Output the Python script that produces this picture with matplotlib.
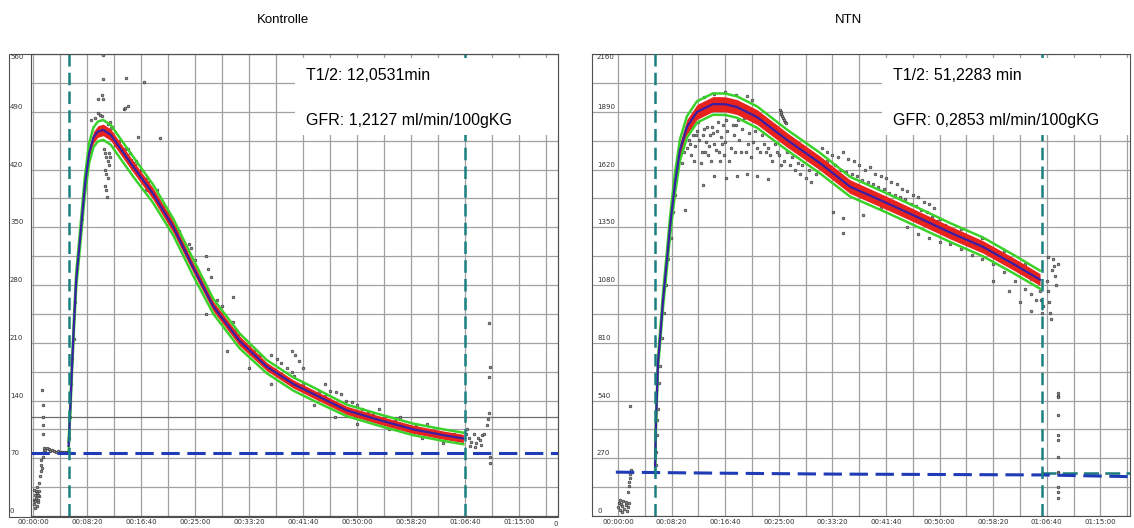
import numpy as np
import matplotlib
matplotlib.use('Agg')
import matplotlib.pyplot as plt
from matplotlib import transforms
from matplotlib.patches import Rectangle
from matplotlib.ticker import FuncFormatter

# ---------------- data (time in s, signal in counts) ----------------
# Kontrolle
k_fit_t = [330, 345, 360, 380, 400, 435, 480, 520, 560, 600, 650, 720, 800, 930, 1110, 1300,
           1480, 1670, 1915, 2165, 2410, 2595, 2905, 3215, 3520, 3800, 3985]
k_fit_v = [85, 130, 177, 235, 286, 335, 400, 440, 459, 466, 468, 462, 447, 423, 391, 350,
           302, 254, 212, 181, 160, 148, 128, 116, 105, 98, 94]
k_red_w = [3, 4, 5, 6, 6, 7, 7, 7, 7, 7, 7, 7, 7, 7, 7, 7, 6, 6, 6, 5, 5, 5, 5, 5, 5, 5, 5]
k_green_w = [5, 6, 7, 8, 9, 10, 11, 12, 12, 12, 12, 12, 12, 12, 11, 10, 10, 9, 9, 8, 8, 8, 7, 7, 7, 7, 7]
k_base_t = [-20, 4861]
k_base_v = [76, 76]
k_line120 = 120
k_marks = [330, 4000]

k_pts_t = [5, 10, 15, 20, 25, 30, 35, 40, 45, 50, 55, 12, 22, 38, 48, 58,
           60, 65, 70, 72, 78, 82, 88, 95, 100, 105,
           85, 88, 92, 95, 90,
           115, 130, 145, 160, 175, 190, 210, 230, 250, 270, 290, 310, 325,
           335, 340, 345, 355, 365, 375, 390, 410, 420, 450, 465,
           540, 570, 600, 620, 640, 690, 710, 730,
           645, 645, 860, 1030, 600, 640, 650, 840, 880, 855, 975, 1175,
           660, 670, 680, 690, 700, 665, 675, 690, 670, 680, 685, 700, 710,
           880, 900, 910, 925, 940, 950, 960, 975, 990, 1000,
           1060, 1065, 1070, 1060, 1075,
           1200, 1220, 1240, 1260, 1280, 1300,
           1440, 1460, 1600, 1620, 1650,
           1700, 1720, 1760, 1800, 1850, 1880, 1900, 1920, 1980,
           2260, 2300, 2350, 2400, 2420, 2400, 2430, 2460, 2500,
           2810, 2850, 2900, 2950, 3000, 3050, 3100,
           1600, 1800, 2000, 2200, 2600, 2800, 3000, 3300, 3600, 3800,
           2200, 2700, 3200, 3400, 3650,
           720, 760, 800, 850, 1000, 1050, 1150, 1250, 1350, 1400, 1500, 1550, 1700, 1750,
           1850, 2000, 2050, 2100, 2300, 2500, 2650, 2700, 2750, 3150, 3250, 3350, 3450, 3550,
           3700, 3750, 3900, 3950,
           4020, 4040, 4060, 4080, 4100, 4120, 4140, 4160, 4180, 4200, 4215, 4225, 4010, 4050, 4090, 4150,
           4225, 4228, 4222, 4230, 4232]
k_pts_v = [20, 15, 25, 18, 30, 22, 12, 28, 20, 17, 24, 32, 10, 35, 26, 30,
           40, 48, 55, 62, 68, 58, 72, 76, 79, 82,
           153, 120, 110, 100, 135,
           80, 82, 81, 79, 80, 79, 78, 79, 78, 78, 77, 78, 77,
           95, 120, 140, 160, 190, 215, 260, 300, 315, 360, 385,
           480, 482, 488, 486, 485, 475, 478, 472,
           559, 530, 531, 526, 505, 510, 505, 493, 497, 495, 459, 458,
           445, 440, 435, 430, 425, 420, 415, 410, 400, 395, 387, 440, 435,
           445, 440, 432, 428, 425, 430, 420, 418, 415, 412,
           410, 405, 400, 398, 395,
           375, 370, 368, 360, 355, 352,
           330, 325, 315, 300, 290,
           250, 245, 240, 232, 265, 225, 220, 210, 205,
           190, 185, 180, 175, 170, 200, 195, 188, 180,
           150, 148, 140, 138, 135, 130, 125,
           245, 200, 180, 160, 135, 120, 112, 105, 95, 88,
           195, 160, 130, 120, 112,
           470, 450, 455, 445, 420, 395, 395, 365, 345, 325, 310, 290, 262, 255,
           235, 205, 200, 195, 172, 160, 150, 145, 152, 125, 118, 115, 108, 110,
           103, 99, 100, 92,
           105, 95, 90, 100, 88, 95, 92, 98, 100, 110, 118, 125, 100, 85, 84, 86,
           234, 181, 169, 64, 72]

# NTN
n_fit_t = [346, 355, 373, 400, 420, 457, 485, 532, 578, 643, 737, 886, 1000, 1110, 1297, 1577,
           1884, 2164, 2500, 2790, 3100, 3405, 3700, 3937]
n_fit_v = [230, 450, 715, 880, 1010, 1200, 1351, 1557, 1711, 1819, 1889, 1926, 1925, 1912, 1865, 1758,
           1650, 1540, 1465, 1398, 1325, 1258, 1175, 1105]
n_red_w = [10, 15, 20, 24, 27, 30, 33, 35, 35, 35, 35, 35, 35, 35, 35, 34, 33, 32, 31, 30, 30, 29, 29, 28]
n_green_w = [15, 20, 25, 30, 35, 40, 45, 48, 50, 50, 50, 50, 50, 50, 50, 48, 48, 46, 45, 45, 44, 44, 43, 42]
n_base_t = [-20, 1000, 2000, 3000, 3950, 4776]
n_base_v = [205, 200, 196, 194, 192, 184]
n_base2_t = [3950, 4776]
n_base2_v = [201, 201]
n_marks = [346, 3953]

n_pts_t = [0, 10, 20, 30, 40, 50, 60, 70, 80, 90, 100, 15, 35, 75,
           95, 100, 105, 110, 115, 120, 125, 130,
           115,
           350, 355, 360, 365, 370, 380, 390, 410, 430, 450, 470, 490, 510, 530,
           600, 620, 640, 660, 680, 700, 720, 740, 760, 780, 800, 820, 840, 860, 880, 900, 920, 940,
           960, 980, 1000, 1020, 1050, 1080, 1100, 1130, 1160, 1190, 1220, 1260, 1300, 1340, 1380,
           1420, 1460, 1500, 1550, 1600, 1650, 1700, 1750, 1800,
           650, 670, 690, 710, 730, 750, 770, 790, 810, 830, 850, 870, 890, 910, 930, 950, 970, 990,
           1010, 1040, 1070, 1090, 1120, 1150, 1180, 1210, 1240, 1280, 1320, 1360, 1400, 1440, 1480,
           1520, 1580, 1620, 1680, 1720, 1780, 1850,
           625, 793, 900, 1010, 1110, 1200, 1300, 1400, 2006, 2100, 2100, 2286, 2450,
           800, 900, 1000, 1100, 1200, 1250,
           1510, 1520, 1530, 1540, 1550, 1560, 1570, 1525,
           1900, 1950, 2000, 2050, 2100, 2150, 2200, 2250, 2300, 2350, 2400, 2450, 2500, 2550,
           2600, 2650, 2700, 2750, 2800, 2850, 2900, 2950,
           1950, 2020, 2080, 2130, 2180, 2230, 2280, 2330, 2380, 2430, 2480, 2530, 2580, 2630,
           2680, 2730, 2780, 2830, 2880, 2930, 2980, 3050, 3150, 3250, 3350, 3450, 3550, 3650,
           3750, 3850,
           2700, 2800, 2900, 3000, 3100, 3200, 3300, 3400, 3500, 3600, 3700, 3800, 3850, 3900,
           3500, 3650, 3750, 3850,
           3000, 3200, 3400, 3600, 3800,
           3950, 3940, 3960, 3955,
           4000, 4010, 4020, 4030, 4040, 4050, 4060, 4070, 4080, 4090, 4100, 4010,
           4104, 4106, 4104, 4105, 4104, 4106, 4105, 4104, 4106, 4104, 4105, 4106]
n_pts_v = [40, 60, 30, 55, 45, 70, 35, 50, 25, 40, 60, 75, 20, 65,
           110, 140, 160, 180, 195, 210, 215, 205,
           514,
           240, 300, 380, 450, 500, 620, 700, 830, 950, 1080, 1200, 1300, 1420, 1500,
           1650, 1700, 1720, 1760, 1690, 1780, 1730, 1800, 1760, 1700, 1810, 1750, 1690, 1780, 1820, 1740, 1800, 1700,
           1770, 1830, 1750, 1800, 1720, 1780, 1830, 1760, 1810, 1700, 1790, 1750, 1720, 1780, 1700,
           1690, 1740, 1690, 1660, 1640, 1620, 1600, 1580, 1560,
           1800, 1740, 1820, 1660, 1780, 1840, 1650, 1780, 1700, 1820, 1730, 1660, 1790, 1710, 1840, 1660, 1740, 1690,
           1850, 1660, 1830, 1700, 1850, 1700, 1860, 1740, 1680, 1800, 1700, 1740, 1720, 1660, 1700,
           1640, 1700, 1680, 1650, 1640, 1620, 1600,
           1430, 1547, 1589, 1580, 1590, 1600, 1590, 1575, 1421, 1323, 1393, 1407, 1440,
           1960, 1975, 1980, 1970, 1965, 1945,
           1898, 1880, 1870, 1860, 1850, 1840, 1837, 1890,
           1720, 1700, 1690, 1680, 1700, 1670, 1660, 1640, 1620, 1630, 1600, 1590, 1580, 1560,
           1550, 1530, 1520, 1500, 1490, 1470, 1460, 1440,
           1660, 1640, 1620, 1610, 1600, 1590, 1570, 1560, 1550, 1540, 1530, 1510, 1500, 1490,
           1480, 1460, 1450, 1430, 1420, 1400, 1380, 1360, 1330, 1300, 1270, 1240, 1210, 1180,
           1150, 1110,
           1351, 1320, 1300, 1280, 1270, 1250, 1220, 1200, 1180, 1140, 1100, 1060, 1040, 1010,
           1100, 1050, 1000, 960,
           1390, 1340, 1300, 1240, 1180,
           1010, 1050, 980, 950,
           1100, 1050, 1000, 950, 920, 1150, 1200, 1170, 1120, 1080, 1180, 1210,
           575, 560, 555, 472, 378, 355, 276, 206, 200, 135, 110, 84]

# ---------------- layout ----------------
W, H = 1134, 528
fig = plt.figure(figsize=(W / 100, H / 100), dpi=100)
FONT = ['Liberation Sans', 'DejaVu Sans']
grid_c = '#a0a0a0'


def hms(x, pos=None):
    s = int(round(x))
    return '%02d:%02d:%02d' % (s // 3600, (s % 3600) // 60, s % 60)


def panel(px0, px1, t0px, pxs, ymax, ystep, fit_t, fit_v, red_w, green_w,
          pts_t, pts_v, marks, title, tcx, txt1, txt2, box_px, lab_px):
    ax = fig.add_axes([px0 / W, 12 / H, (px1 - px0) / W, 462 / H])
    ax.set_xlim((px0 - t0px) / pxs, (px1 - t0px) / pxs)
    ax.set_ylim(0, ymax)
    ax.set_xticks(np.arange(0, 4751, 500))
    ax.set_xticks(np.arange(0, 4751, 250), minor=True)
    ax.set_yticks(np.arange(0, ymax + 1, ystep))
    ax.set_yticks(np.arange(0, ymax + 1, ystep / 2), minor=True)
    ax.grid(True, which='both', color=grid_c, lw=0.9, zorder=0)
    ax.set_axisbelow(True)
    ax.xaxis.set_major_formatter(FuncFormatter(hms))
    ax.tick_params(which='both', length=0)
    ax.tick_params(axis='x', labelsize=5, pad=2.5, labelcolor='#333333')
    ax.tick_params(axis='y', labelleft=False)
    for sp in ax.spines.values():
        sp.set_color('#505050')
        sp.set_linewidth(0.8)

    # y labels, drawn left-aligned just above each grid line
    trans = transforms.blended_transform_factory(fig.transFigure, ax.transData)
    for v in np.arange(0, ymax + 1, ystep):
        if v == ymax:
            ax.text(lab_px / W, v, '%d' % v, transform=trans, fontsize=5, color='#333333',
                    ha='left', va='top', clip_on=False)
        else:
            ax.text(lab_px / W, v + ymax * 0.004, '%d' % v, transform=trans, fontsize=5,
                    color='#333333', ha='left', va='bottom', clip_on=False)

    fit_t = np.array(fit_t)
    fit_v = np.array(fit_v)
    red_w = np.array(red_w)
    green_w = np.array(green_w)

    ax.plot(pts_t, pts_v, 'o', ms=2.0, mfc='#8f8f8f', mec='#222222', mew=0.4, zorder=3)
    ax.fill_between(fit_t, fit_v - red_w, fit_v + red_w, color='#e8231e', lw=0, zorder=4)
    ax.plot(fit_t, fit_v + green_w, color='#3ad22a', lw=1.8, zorder=5)
    ax.plot(fit_t, fit_v - green_w, color='#3ad22a', lw=1.8, zorder=5)
    ax.plot(fit_t, fit_v, color='#3a1ea6', lw=1.6, zorder=6)

    for m in marks:
        ax.axvline(m, color='#1b8080', lw=1.8, dashes=(5, 2.5), zorder=7)

    # white info box
    bx0 = (box_px - px0) / (px1 - px0)
    ax.add_patch(Rectangle((bx0, (516 - 135) / 462), 1 - bx0, (135 - 58) / 462,
                           transform=ax.transAxes, facecolor='white', edgecolor='none', zorder=9))
    tx = (box_px + 11 - px0) / (px1 - px0)
    ax.text(tx, (516 - 76) / 462, txt1, transform=ax.transAxes, fontsize=11.5, family=FONT,
            va='center', ha='left', zorder=10)
    ax.text(tx, (516 - 120) / 462, txt2, transform=ax.transAxes, fontsize=11.5, family=FONT,
            va='center', ha='left', zorder=10)

    fig.text(tcx / W, 1 - 20 / H, title, fontsize=9.5, family=FONT, ha='center', va='center')
    return ax


axk = panel(31, 558, 33, 0.108, 560, 70, k_fit_t, k_fit_v, k_red_w, k_green_w,
            k_pts_t, k_pts_v, k_marks, 'Kontrolle', 283,
            'T1/2: 12,0531min', 'GFR: 1,2127 ml/min/100gKG', 295, 10)
axk.plot(k_base_t, k_base_v, color='#1f3bb5', lw=2.2, dashes=(6, 2.5), zorder=6)
axk.axhline(k_line120, color='#6e6e6e', lw=0.9, zorder=1)
fig.text(556 / W, 1 - 524 / H, '0', fontsize=5, color='#333333', ha='center', va='center')
fig.add_artist(Rectangle((9 / W, 11 / H), 549 / W, 463 / H, transform=fig.transFigure,
                         facecolor='none', edgecolor='#505050', lw=0.8))

axn = panel(592, 1130, 618, 0.1072, 2160, 270, n_fit_t, n_fit_v, n_red_w, n_green_w,
            n_pts_t, n_pts_v, n_marks, 'NTN', 848,
            'T1/2: 51,2283 min', 'GFR: 0,2853 ml/min/100gKG', 882, 597)
axn.plot(n_base2_t, n_base2_v, color='#1b7a7a', lw=1.8, dashes=(6, 2.5), zorder=6)
axn.plot(n_base_t, n_base_v, color='#1f3bb5', lw=2.2, dashes=(6, 2.5), zorder=6)

fig.savefig('out.png', dpi=100)
